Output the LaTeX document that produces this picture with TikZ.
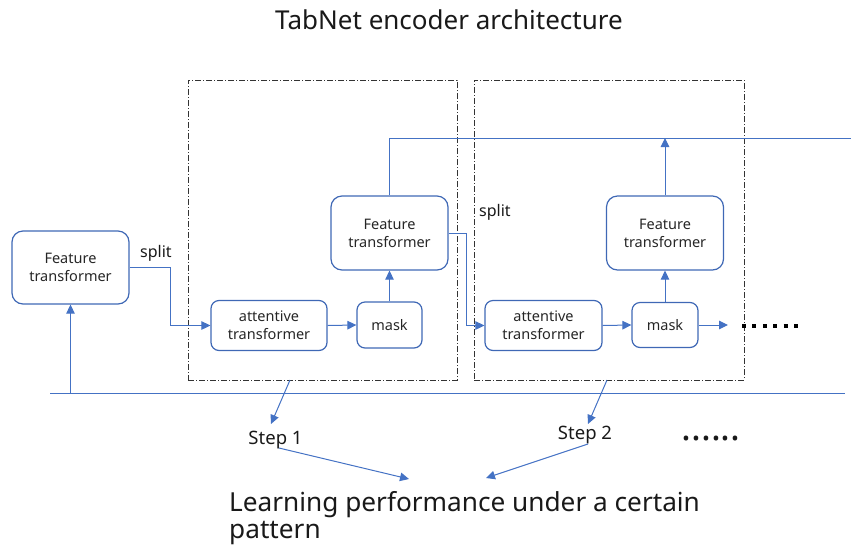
\documentclass[tikz,border=0pt]{standalone}
\usepackage{fontspec}
\setmainfont{Noto Sans}
\usetikzlibrary{arrows.meta,calc}
\definecolor{ob}{HTML}{4472C4}
\definecolor{obd}{HTML}{3F68B5}
\begin{document}
\begin{tikzpicture}[x=1pt,y=-1pt,
  ftbox/.style={draw=obd, line width=1.2pt, rounded corners=11pt, align=center, inner sep=0pt,
    font=\fontsize{14.5}{18}\selectfont, text=black!85, minimum width=117pt, minimum height=73pt},
  smbox/.style={draw=obd, line width=1.2pt, rounded corners=8pt, align=center, inner sep=0pt,
    font=\fontsize{14.5}{18}\selectfont, text=black!85},
  stepbox/.style={draw=black!80, line width=0.9pt, dash pattern=on 6pt off 2pt on 1pt off 2pt,
    minimum width=269pt, minimum height=300pt, inner sep=0pt},
  wire/.style={draw=ob, line width=1pt},
  arr/.style={wire, -{Triangle[length=9pt,width=8.5pt]}},
  lbl/.style={inner sep=0pt, text=black!90},
]
\useasboundingbox (0,0) rectangle (851,547);

% title
\node[lbl, font=\fontsize{26}{28}\selectfont] (title) at (449,20) {TabNet encoder architecture};

% dash-dot step frames
\node[stepbox] (frame1) at (322.5,230) {};
\node[stepbox, minimum width=270pt] (frame2) at (609,230) {};

% blocks
\node[ftbox] (ft0) at (70.5,267.5) {Feature\\transformer};
\node[smbox, minimum width=116pt, minimum height=50pt] (att1) at (269,325.5) {attentive\\transformer};
\node[smbox, minimum width=65pt, minimum height=46pt] (mask1) at (389.5,325) {mask};
\node[ftbox, minimum height=74pt] (ft1) at (389.5,233) {Feature\\transformer};
\node[smbox, minimum width=117pt, minimum height=50pt] (att2) at (543.5,325.5) {attentive\\transformer};
\node[smbox, minimum width=66pt, minimum height=45pt] (mask2) at (665,325) {mask};
\node[ftbox, minimum height=74pt] (ft2) at (665,233) {Feature\\transformer};

% labels
\node[lbl, font=\fontsize{16}{18}\selectfont] (split1) at (156,253) {split};
\node[lbl, font=\fontsize{16}{18}\selectfont] (split2) at (495,212) {split};
\node[lbl, font=\fontsize{18.5}{20}\selectfont] (step1) at (275.5,440) {Step 1};
\node[lbl, font=\fontsize{18.5}{20}\selectfont] (step2) at (585,435) {Step 2};
\node[lbl, font=\bfseries\fontsize{37}{37}\selectfont, anchor=base] (dots2) at (711,440) {......};
\node[lbl, font=\fontsize{26.2}{27.5}\selectfont, align=left, anchor=north west] (learn) at (229,491)
  {Learning performance under a certain\\pattern};

% coordinates
\coordinate (s1) at (170,325.5);
\coordinate (s2) at (466,325.5);
\coordinate (topR) at (851,138);
\coordinate (bl) at (50,393);
\coordinate (br) at (845,393);
\coordinate (m2out) at (728,325);
\coordinate (dotA) at (742,326);
\coordinate (dotB) at (800,326);
\coordinate (f1b) at (290,380);
\coordinate (f2b) at (607,380);
\coordinate (st1a) at (271,424);
\coordinate (st2a) at (588,424);
\coordinate (st1o) at (279,448);
\coordinate (st2o) at (588,444);
\coordinate (lr1) at (409,479);
\coordinate (lr2) at (486,478);

% connectors
\draw[arr] (ft0.east) -| (s1) -- (att1.west);
\draw[arr] (att1.east) -- (mask1.west);
\draw[arr] (mask1.north) -- (ft1.south);
\draw[wire] (ft1.north) |- (topR);
\draw[arr] (ft1.east) -| (s2) -- (att2.west);
\draw[arr] (att2.east) -- (mask2.west);
\draw[arr] (mask2.north) -- (ft2.south);
\draw[arr] (ft2.north) -- (ft2.north |- topR);
\draw[arr] (mask2.east) -- (m2out);
\draw[line width=4pt, dash pattern=on 4pt off 6.4pt] (dotA) -- (dotB);
\draw[wire] (bl) -- (br);
\draw[arr] (ft0.south |- bl) -- (ft0.south);
\draw[arr] (f1b) -- (st1a);
\draw[arr] (f2b) -- (st2a);
\draw[arr] (st1o) -- (lr1);
\draw[arr] (st2o) -- (lr2);
\end{tikzpicture}
\end{document}
